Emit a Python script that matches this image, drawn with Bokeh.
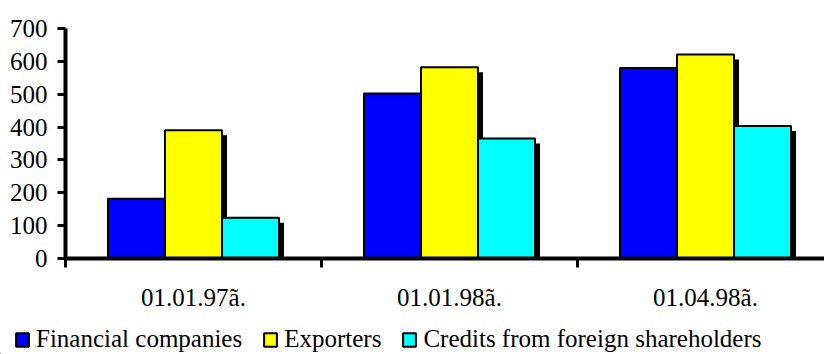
from bokeh.plotting import figure
from bokeh.models import (ColumnDataSource, FixedTicker, Range1d, Legend, LegendItem, LinearAxis)
from bokeh.embed import file_html
from bokeh.resources import INLINE

# ---- data ----
categories = ["01.01.97ã.", "01.01.98ã.", "01.04.98ã."]
series_names = ["Financial companies", "Exporters", "Credits from foreign shareholders"]
financial = [182, 502, 580]
exporters = [390, 582, 621]
credits = [124, 365, 403]
y_ticks = [0, 100, 200, 300, 400, 500, 600, 700]
colors = ["#0000FF", "#FFFF00", "#00FFFF"]

FONT = "Liberation Serif"
W = 824
H_MAIN, H_LEG = 320, 34
LEFT, TOP = 65, 28
BOTTOM = H_MAIN - 258
px_per_cat = 256.0
frame_w = W - LEFT
bar_w = 0.2227
offsets = [-bar_w, 0.0, bar_w]
sh_dx = 5.0 / px_per_cat
sh_dy = 5.0 * 700 / (H_MAIN - TOP - BOTTOM)

p = figure(width=W, height=H_MAIN, output_backend="svg", toolbar_location=None,
           x_range=Range1d(0, frame_w / px_per_cat), y_range=Range1d(0, 700),
           min_border_left=LEFT, min_border_top=TOP, min_border_bottom=BOTTOM,
           min_border_right=0, x_axis_type=None, y_axis_type=None)
p.outline_line_color = None
p.xgrid.visible = False
p.ygrid.visible = False

all_series = [financial, exporters, credits]
for k, vals in enumerate(all_series):
    xs = [i + 0.5 + offsets[k] + sh_dx for i in range(len(categories))]
    tops = [v - sh_dy for v in vals]
    src = ColumnDataSource(dict(x=xs, top=tops))
    p.vbar(x="x", top="top", bottom=0, width=bar_w, source=src,
           fill_color="black", line_color=None)

for k, vals in enumerate(all_series):
    xs = [i + 0.5 + offsets[k] for i in range(len(categories))]
    src = ColumnDataSource(dict(x=xs, top=vals))
    p.vbar(x="x", top="top", bottom=0, width=bar_w, source=src,
           fill_color=colors[k], line_color="black", line_width=2)

xax = LinearAxis()
centers = [i + 0.5 for i in range(len(categories))]
xax.ticker = FixedTicker(ticks=centers, minor_ticks=[0, 1, 2, 3])
xax.major_label_overrides = {c: lab for c, lab in zip(centers, categories)}
xax.major_tick_line_color = None
xax.major_tick_out = 0
xax.major_tick_in = 0
xax.minor_tick_line_color = "black"
xax.minor_tick_line_width = 3
xax.minor_tick_out = 9
xax.minor_tick_in = 0
xax.axis_line_width = 4
xax.axis_line_color = "black"
xax.major_label_text_font = FONT
xax.major_label_text_font_size = "25px"
xax.major_label_text_color = "black"
xax.major_label_standoff = 16
p.add_layout(xax, "below")

yax = LinearAxis()
yax.ticker = FixedTicker(ticks=y_ticks)
yax.minor_tick_line_color = None
yax.major_tick_line_width = 3
yax.major_tick_line_color = "black"
yax.major_tick_out = 8
yax.major_tick_in = 0
yax.axis_line_width = 4
yax.axis_line_color = "black"
yax.major_label_text_font = FONT
yax.major_label_text_font_size = "25px"
yax.major_label_text_color = "black"
yax.major_label_standoff = 10
p.add_layout(yax, "left")

# legend strip (separate root so its frame starts at the left edge)
p2 = figure(width=W, height=H_LEG, output_backend="svg", toolbar_location=None,
            x_range=Range1d(0, 1), y_range=Range1d(0, 1),
            min_border=0, x_axis_type=None, y_axis_type=None)
p2.outline_line_color = None
p2.xgrid.visible = False
p2.ygrid.visible = False
leg_renderers = []
for k in range(len(series_names)):
    # legend proxy glyph, kept outside the visible range
    r = p2.vbar(x=[-5], top=[-5], bottom=-6, width=0.1, fill_color=colors[k],
                line_color="black", line_width=2)
    leg_renderers.append(r)
legend = Legend(items=[LegendItem(label=n, renderers=[r]) for n, r in zip(series_names, leg_renderers)],
                orientation="horizontal", location=(14, 1),
                glyph_width=16, glyph_height=17, label_standoff=6, spacing=20,
                padding=0, margin=0, border_line_color=None, background_fill_alpha=0,
                label_text_font=FONT, label_text_font_size="25px", label_text_color="black")
p2.add_layout(legend, "center")

open("out.html", "w").write(file_html([p, p2], INLINE))
